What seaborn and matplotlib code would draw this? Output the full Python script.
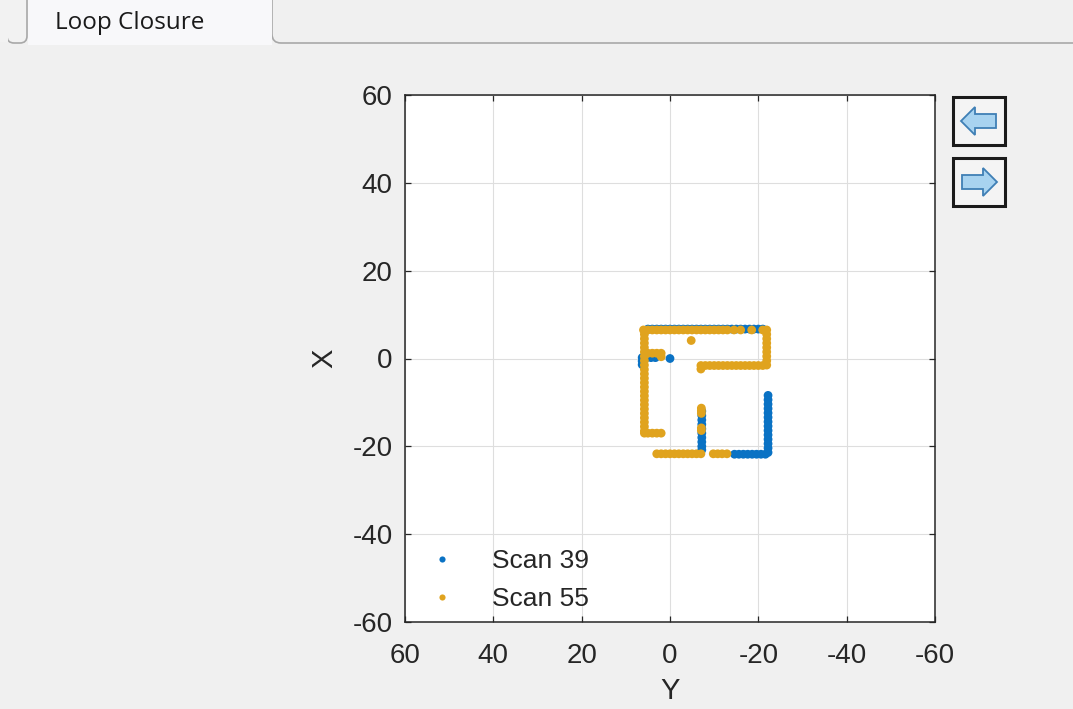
import matplotlib
matplotlib.use("Agg")
import matplotlib.pyplot as plt
from matplotlib.patches import FancyBboxPatch, Rectangle, Polygon
import seaborn as sns
import pandas as pd

# ---------------- data (Y = horizontal axis, X = vertical axis) ----------------
scan39_points = [
    # top wall
    (5, 6.7), (4, 6.7), (3, 6.7), (2, 6.7), (1, 6.7), (0, 6.7), (-1, 6.7), (-2, 6.7),
    (-3, 6.7), (-4, 6.7), (-5, 6.7), (-6, 6.7), (-7, 6.7), (-8, 6.7), (-9, 6.7),
    (-10, 6.7), (-11, 6.7), (-12, 6.7), (-13, 6.7), (-14, 6.7), (-15, 6.7), (-16, 6.7),
    (-17, 6.7), (-18, 6.7), (-19, 6.7), (-20, 6.7), (-21, 6.7),
    # left corner
    (6.3, 0.2), (5.3, 0.2), (4.3, 0.2), (3.3, 0.2), (6.3, -0.6), (6.3, -1.4),
    # sensor origin
    (0, 0),
    # middle vertical wall
    (-7.2, -12), (-7.2, -13), (-7.2, -14), (-7.2, -15), (-7.2, -16), (-7.2, -17),
    (-7.2, -18), (-7.2, -19), (-7.2, -20), (-7.2, -20.8),
    # bottom wall (right part)
    (-14.6, -21.8), (-15.6, -21.8), (-16.6, -21.8), (-17.6, -21.8), (-18.6, -21.8),
    (-19.6, -21.8), (-20.6, -21.8), (-21.6, -21.8),
    # right vertical wall
    (-22.2, -8.4), (-22.2, -9.4), (-22.2, -10.4), (-22.2, -11.4), (-22.2, -12.4),
    (-22.2, -13.4), (-22.2, -14.4), (-22.2, -15.4), (-22.2, -16.4), (-22.2, -17.4),
    (-22.2, -18.4), (-22.2, -19.4), (-22.2, -20.4), (-22.2, -21.4),
]

scan55_points = [
    # top wall
    (6, 6.5), (5, 6.5), (4, 6.5), (3, 6.5), (2, 6.5), (1, 6.5), (0, 6.5), (-1, 6.5),
    (-2, 6.5), (-3, 6.5), (-4, 6.5), (-5, 6.5), (-6, 6.5), (-7, 6.5), (-8, 6.5),
    (-9, 6.5), (-10, 6.5), (-11, 6.5), (-12, 6.5), (-13, 6.5), (-14.5, 6.5),
    (-16, 6.5), (-18.5, 6.5), (-21, 6.5),
    # left vertical wall
    (5.8, 5.5), (5.8, 4.5), (5.8, 3.5), (5.8, 2.5), (5.8, 1.5), (5.8, 0.5), (5.8, -0.5),
    (5.8, -1.5), (5.8, -2.5), (5.8, -3.5), (5.8, -4.5), (5.8, -5.5), (5.8, -6.5),
    (5.8, -7.5), (5.8, -8.5), (5.8, -9.5), (5.8, -10.5), (5.8, -11.5), (5.8, -12.5),
    (5.8, -13.5), (5.8, -14.5), (5.8, -15.5), (5.8, -16.5), (5.8, -17),
    # bottom-left stub
    (5, -17), (4, -17), (3, -17), (2, -17),
    # inner stub
    (5, 1.2), (4, 1.2), (3, 1.2), (2, 1.2), (2, 0.4),
    # right vertical wall
    (-21.9, 6.5), (-21.9, 5.5), (-21.9, 4.5), (-21.9, 3.5), (-21.9, 2.5), (-21.9, 1.5),
    (-21.9, 0.5), (-21.9, -0.5), (-21.9, -1.5),
    # middle horizontal wall
    (-7, -1.6), (-8, -1.6), (-9, -1.6), (-10, -1.6), (-11, -1.6), (-12, -1.6),
    (-13, -1.6), (-14, -1.6), (-15, -1.6), (-16, -1.6), (-17, -1.6), (-18, -1.6),
    (-19, -1.6), (-20, -1.6), (-21, -1.6), (-7, -2.4),
    # middle vertical wall
    (-7.1, -11.3), (-7.1, -11.9), (-7.1, -12.5), (-7.1, -15.8), (-7.1, -16.4),
    # bottom wall
    (3, -21.7), (2, -21.7), (1, -21.7), (0, -21.7), (-1, -21.7), (-2, -21.7),
    (-3, -21.7), (-4, -21.7), (-5, -21.7), (-6, -21.7), (-7, -21.7),
    (-9.8, -21.7), (-10.8, -21.7), (-11.8, -21.7), (-12.9, -21.7),
    # isolated return
    (-4.8, 4.1),
]

scan_names = ["Scan 39", "Scan 55"]
scan_colors = ["#0A72C4", "#E0A31E"]
tick_values = [-60, -40, -20, 0, 20, 40, 60]
tab_title = "Loop Closure"

# ---------------- build table ----------------
rows = []
for name, pts in zip(scan_names, [scan39_points, scan55_points]):
    for yv, xv in pts:
        rows.append({"Y": yv, "X": xv, "scan": name})
df = pd.DataFrame(rows)

# ---------------- figure ----------------
sns.set_theme(style="white")
plt.rcParams["font.family"] = ["Liberation Sans", "DejaVu Sans"]

W, H = 1073, 709
fig = plt.figure(figsize=(W / 100, H / 100), dpi=100, facecolor="#F0F0F0")

# decoration layer in pixel coordinates
deco = fig.add_axes([0, 0, 1, 1], zorder=0)
deco.set_xlim(0, W)
deco.set_ylim(H, 0)
deco.axis("off")

edge = "#A8A8A8"
deco.add_patch(FancyBboxPatch((7, -30), 20, 73, boxstyle="round,pad=0,rounding_size=7",
                              facecolor="#F2F2F2", edgecolor=edge, lw=1.2))
deco.add_patch(Rectangle((0, -2), 8, 43.5, facecolor="#F2F2F2", edgecolor="none"))
deco.add_patch(FancyBboxPatch((272, -30), 830, 73, boxstyle="round,pad=0,rounding_size=9",
                              facecolor="#F0F0F0", edgecolor=edge, lw=1.2))
deco.add_patch(Rectangle((27.5, -2), 244, 47, facecolor="#F8F8FA", edgecolor="none"))
deco.text(55, 23, tab_title, fontsize=17.5, family=["Open Sans", "DejaVu Sans"],
          color="#1a1a1a", va="center", ha="left")

# navigation buttons
for top, direction in [(97, -1), (158, 1)]:
    deco.add_patch(Rectangle((953, top), 52, 48, facecolor="#F4F4F4",
                             edgecolor="#1a1a1a", lw=2.2))
    cy = top + 24
    if direction < 0:
        pts = [(961, cy), (975, cy - 14), (975, cy - 7), (996, cy - 7),
               (996, cy + 7), (975, cy + 7), (975, cy + 14)]
    else:
        pts = [(997, cy), (983, cy - 14), (983, cy - 7), (962, cy - 7),
               (962, cy + 7), (983, cy + 7), (983, cy + 14)]
    deco.add_patch(Polygon(pts, closed=True, facecolor="#A8D3F0",
                           edgecolor="#3F7FB5", lw=1.3, joinstyle="miter"))

# main axes
ax = fig.add_axes([405 / W, 1 - 622 / H, 530 / W, 527 / H], zorder=1)
ax.set_facecolor("white")

sns.scatterplot(data=df, x="Y", y="X", hue="scan", hue_order=scan_names,
                palette=scan_colors, s=40, linewidth=0, edgecolor="none",
                marker="o", ax=ax, legend=True)

ax.set_xlim(60, -60)
ax.set_ylim(-60, 60)
ax.set_xticks(tick_values)
ax.set_yticks(tick_values)
ax.set_xticklabels([str(v) for v in tick_values])
ax.set_yticklabels([str(v) for v in tick_values])
ax.grid(True, color="#DEDEDE", lw=0.8)
ax.set_axisbelow(True)
for sp in ax.spines.values():
    sp.set_color("#262626")
    sp.set_linewidth(1.1)
ax.tick_params(direction="in", length=4, width=0.9, color="#262626",
               labelsize=20, labelcolor="#262626", top=True, right=True,
               bottom=True, left=True)
ax.tick_params(axis="y", pad=9)
ax.tick_params(axis="x", pad=15)
ax.set_xlabel("Y", fontsize=21, color="#262626", labelpad=6)
ax.set_ylabel("X", fontsize=21, color="#262626", labelpad=10, rotation=90)

leg = ax.legend(loc="lower left", frameon=False, fontsize=19, handletextpad=0.9,
                markerscale=0.7, labelspacing=0.55, borderaxespad=0.0,
                handlelength=2.0)
for t in leg.get_texts():
    t.set_color("#262626")

fig.savefig("out.png", dpi=100, facecolor=fig.get_facecolor())
